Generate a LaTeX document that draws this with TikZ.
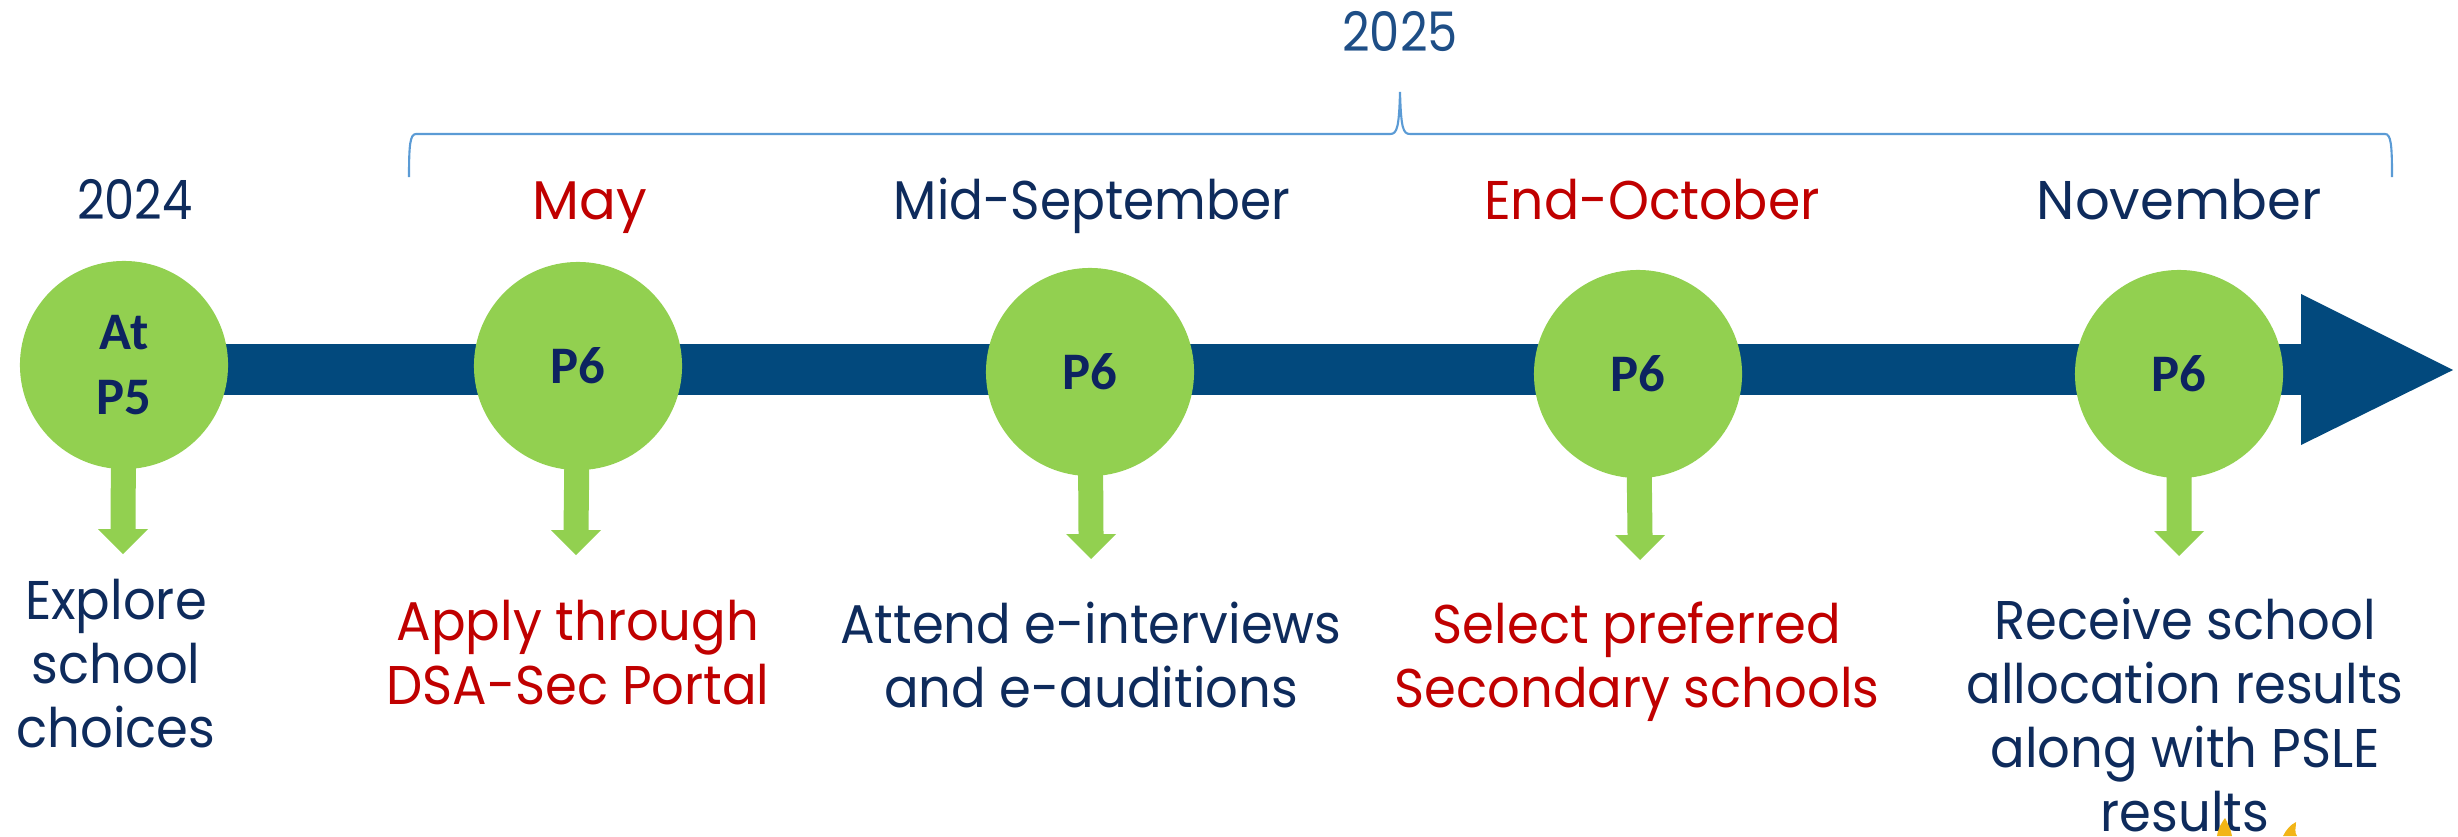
\documentclass[tikz,border=0pt]{standalone}
\usepackage{fontspec}
\setmainfont{Poppins}
\newfontfamily\lblfont{Carlito}
\usetikzlibrary{calc}
\definecolor{barc}{HTML}{02497D}
\definecolor{grn}{HTML}{92D050}
\definecolor{navy}{HTML}{0E2B5C}
\definecolor{lbl}{HTML}{0D2360}
\definecolor{redc}{HTML}{C00000}
\definecolor{yrc}{HTML}{1E4E86}
\definecolor{brc}{HTML}{5B9BD5}
\definecolor{ylw}{HTML}{F2B516}
\newcommand{\stretchto}[1]{\addfontfeatures{FakeStretch=#1}}
\begin{document}
\begin{tikzpicture}[x=0.01cm,y=-0.01cm,
  circ/.style={circle,fill=grn,minimum size=2.08cm,inner sep=0pt,align=center,text=lbl,
    font=\lblfont\bfseries\fontsize{15}{18.5}\selectfont},
  hdr/.style={anchor=base,inner sep=0pt,font=\fontsize{15.5}{18}\selectfont\stretchto{#1}},
  hdr/.default=1,
  desc/.style={anchor=base,inner sep=0pt,align=center,font=\fontsize{15.5}{18.2}\selectfont\stretchto{0.94}},
  downarrow/.style={fill=grn}]
\useasboundingbox (0,0) rectangle (2458,836);
% centres
\coordinate (p1) at (124,365);
\coordinate (p2) at (578,366);
\coordinate (p3) at (1090,372);
\coordinate (p4) at (1638,374);
\coordinate (p5) at (2179,374);
% arrow tips
\coordinate (t1) at (123,554);
\coordinate (t2) at (576,555);
\coordinate (t3) at (1091,559);
\coordinate (t4) at (1640,560);
\coordinate (t5) at (2179,556);
% timeline bar
\coordinate (be) at (2453,370);
\fill[barc] (124,344) rectangle (2301,395);
\fill[barc] (2301,294) -- (be) -- (2301,445) -- cycle;
% down arrows
\foreach \i in {1,...,5}{
  \fill[downarrow] ($(p\i)+(-12.5,0)$) -- ($(t\i)+(-12.5,-25)$) -- ($(t\i)+(-25,-25)$) -- (t\i)
    -- ($(t\i)+(25,-25)$) -- ($(t\i)+(12.5,-25)$) -- ($(p\i)+(12.5,0)$) -- cycle;
}
% circles
\node[circ] (c1) at (p1) {At\\P5};
\node[circ] (c2) at (p2) {P6};
\node[circ] (c3) at (p3) {P6};
\node[circ] (c4) at (p4) {P6};
\node[circ] (c5) at (p5) {P6};
% headers
\node[hdr=0.88,text=navy] (h1) at (135,219) {2024};
\node[hdr,text=redc] (h2) at (590,219) {May};
\node[hdr=0.92,text=navy] (h3) at (1092,219) {Mid-September};
\node[hdr=0.955,text=redc] (h4) at (1652,219) {End-October};
\node[hdr,text=navy] (h5) at (2179,219) {November};
\node[hdr=0.88,text=yrc] (h6) at (1400,51) {2025};
% brace
\draw[brc,line width=0.6pt] (409,177) .. controls (409,145) and (410,134) .. (416,134)
  -- (1390,134) .. controls (1397,134) and (1399,128) .. (1400,92)
  .. controls (1401,128) and (1403,134) .. (1410,134)
  -- (2385,134) .. controls (2391,134) and (2392,145) .. (2392,177);
% descriptions (anchored at the baseline of the last line)
\node[desc,text=navy] (d1) at (116,747) {Explore\\school\\choices};
\node[desc,text=redc] (d2) at (578,704) {Apply through\\DSA-Sec Portal};
\node[desc,text=navy] (d3) at (1091,707) {Attend e-interviews\\and e-auditions};
\node[desc,text=redc] (d4) at (1637,707) {Select preferred\\Secondary schools};
\node[desc,text=navy] (d5) at (2185,831) {Receive school\\allocation results\\along with PSLE\\results};
% yellow fragments
\fill[ylw] (2217,836) .. controls (2218,828) and (2222,822) .. (2225,818) .. controls (2228,824) and (2231,830) .. (2232,836) -- cycle;
\fill[ylw] (2283,836) .. controls (2286,830) and (2290,825) .. (2296,822) .. controls (2296,828) and (2294,832) .. (2297,836) -- cycle;
\end{tikzpicture}
\end{document}
